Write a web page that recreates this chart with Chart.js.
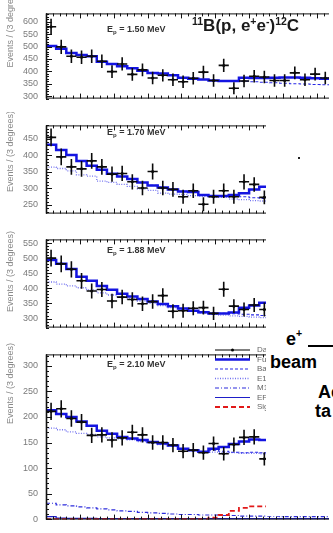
<!DOCTYPE html>
<html>
<head>
<meta charset="utf-8">
<title>11B(p, e+e-)12C</title>
<script src="https://cdn.jsdelivr.net/npm/chart.js@4.4.1/dist/chart.umd.min.js"></script>
<style>
  html, body { margin: 0; padding: 0; background: #fff; }
  body { position: relative; width: 333px; height: 533px; overflow: hidden; font-family: "Liberation Sans", Arial, sans-serif; }
  canvas { position: absolute; left: 0; }
  #cover { position: absolute; left: 266px; top: 113px; width: 67px; height: 403px; background: #fff; }
  .txt { position: absolute; font-weight: bold; color: #000; white-space: nowrap; font-size: 18px; line-height: 18px; }
  .sup { position: relative; font-size: 10.5px; top: -6px; }
</style>
</head>
<body>
<canvas id="c150" width="333" height="112" style="top:0"></canvas>
<canvas id="c170" width="333" height="115" style="top:112px"></canvas>
<canvas id="c188" width="333" height="115" style="top:226px"></canvas>
<canvas id="c210" width="333" height="192" style="top:341px"></canvas>

<div id="cover"></div>
<div style="position:absolute;left:298px;top:157px;width:2px;height:2px;background:#222"></div>
<div class="txt" style="left:192px;top:17px;font-size:17px;line-height:17px;color:#1a1a1a"><span class="sup">11</span>B(p, e<span class="sup">+</span>e<span class="sup">-</span>)<span class="sup">12</span>C</div>
<div class="txt" style="left:286px;top:330px">e<span class="sup" style="top:-8px">+</span></div>
<div style="position:absolute;left:308px;top:345px;width:25px;height:1.5px;background:#000"></div>
<div class="txt" style="left:270px;top:353px">beam</div>
<div class="txt" style="left:318px;top:383px">Ac</div>
<div class="txt" style="left:315px;top:402px">ta</div>

<script>
// bins of 3 degrees, first bin edge at 40 deg
const binStart = 40;
const binWidth = 3;
const xMax = 123.6;

const energies = ['1.50', '1.70', '1.88', '2.10'];
const yTitle = 'Events / (3 degrees)';
const legendLabels = ['Data', 'Full fit', 'Background', 'E1', 'M1', 'EPC', 'Signal'];

// Ep = 1.50 MeV
const data150 = [580, 499, 461, 457, 461, 441, 399, 430, 388, 406, 373, 384, 366, 358, 372, 397, 363, 424, 332, 361, 380, 377, 363, 363, 394, 366, 389, 373];
const err150 = [32, 29, 27, 27, 27, 27, 26, 27, 26, 26, 25, 25, 25, 25, 25, 26, 25, 27, 24, 25, 25, 25, 25, 25, 26, 25, 26, 25];
const fit150 = [502, 491, 474, 466, 461, 439, 430, 421, 413, 402, 393, 391, 384, 374, 370, 367, 363, 361, 361, 374, 373, 373, 374, 375, 375, 374, 372, 370];
const bkg150 = [502, 491, 474, 466, 461, 439, 430, 421, 413, 402, 393, 391, 384, 374, 370, 367, 363, 361, 361, 360, 358, 356, 354, 352, 350, 349, 347, 346];

// Ep = 1.70 MeV
const data170 = [454, 395, 365, 359, 383, 365, 343, 345, 320, 301, 351, 301, 297, 275, 293, 252, 275, 293, 275, 320, 312, 273];
const err170 = [27, 25, 24, 24, 24, 24, 23, 23, 23, 22, 24, 22, 22, 21, 22, 21, 21, 22, 21, 23, 22, 21];
const fit170 = [432, 416, 401, 383, 368, 356, 344, 336, 328, 318, 309, 303, 297, 291, 289, 280, 277, 277, 280, 285, 297, 305];
const bkg170 = [432, 416, 401, 383, 368, 356, 344, 336, 328, 318, 309, 303, 297, 291, 289, 280, 277, 277, 278, 275, 272, 270];
const e1_170 = [364, 360, 353, 341, 337, 322, 318, 312, 306, 299, 294, 286, 283, 282, 278, 276, 274, 273, 268, 266, 263, 262];

// Ep = 1.88 MeV
const data188 = [500, 481, 463, 425, 391, 396, 358, 371, 363, 349, 356, 376, 324, 326, 334, 336, 317, 397, 341, 330, 345, 330];
const err188 = [28, 28, 27, 26, 25, 25, 24, 24, 24, 24, 24, 24, 23, 23, 23, 23, 22, 25, 23, 23, 23, 23];
const fit188 = [494, 481, 464, 438, 425, 408, 395, 382, 373, 365, 356, 348, 341, 333, 326, 321, 317, 317, 320, 336, 343, 352];
const bkg188 = [494, 481, 464, 438, 425, 408, 395, 382, 373, 365, 356, 348, 341, 333, 326, 321, 317, 317, 316, 314, 312, 310];
const e1_188 = [421, 414, 408, 402, 395, 385, 378, 372, 365, 358, 350, 343, 336, 330, 325, 317, 314, 311, 309, 307, 305, 303];

// Ep = 2.10 MeV
const data210 = [211, 216, 197, 190, 164, 165, 155, 159, 170, 165, 150, 150, 145, 133, 135, 130, 148, 128, 146, 160, 161, 118];
const err210 = [17, 17, 16, 16, 15, 15, 15, 15, 15, 15, 14, 14, 14, 14, 14, 14, 14, 13, 14, 15, 15, 13];
const fit210 = [213, 206, 200, 191, 183, 173, 167, 161, 158, 155, 151, 148, 144, 138, 135, 132, 138, 141, 147, 152, 156, 155];
const bkg210 = [213, 206, 200, 191, 183, 173, 167, 161, 158, 155, 151, 148, 144, 138, 135, 132, 135, 133, 131, 130, 131, 130];
const e1_210 = [178, 175, 171, 168, 166, 161, 159, 157, 155, 152, 149, 146, 143, 137, 134, 131, 131, 130, 130, 129, 129, 128];
const m1_210 = [31, 28, 26, 24, 22, 20, 18, 16, 15, 13, 12, 11, 10, 9, 9, 8, 8, 7, 7, 6, 6, 6, 6, 5, 5, 5, 5, 5];
const epc210 = [5, 2, 1.5, 1.5, 1.5, 1, 1, 1, 1, 1, 1, 1, 1, 1, 1, 1, 1, 1, 1, 1, 1, 1, 1, 1, 1, 1, 1, 1];
const sig210 = [0, 0, 0, 0, 0, 0, 0, 0, 0, 0, 0, 0, 0, 0, 0, 0, 3, 8, 16, 22, 25, 25, 19, 16, 15, 14, 13, 12];

const FONT = '"Liberation Sans", Arial, sans-serif';

// histogram outline: one point per left bin edge plus the last right edge
function hist(values) {
    const pts = values.map((v, i) => ({ x: binStart + i * binWidth, y: v }));
    pts.push({ x: binStart + values.length * binWidth, y: values[values.length - 1] });
    return pts;
}

function centres(values) {
    return values.map((v, i) => ({ x: binStart + (i + 0.5) * binWidth, y: v }));
}

const styles = {
    'Full fit': { borderColor: 'rgb(20,20,225)', borderWidth: 2.5 },
    'Background': { borderColor: 'rgb(40,40,230)', borderWidth: 1.1, borderDash: [3, 2] },
    'E1': { borderColor: 'rgb(115,115,240)', borderWidth: 1.3, borderDash: [1, 1.5] },
    'M1': { borderColor: 'rgb(45,45,220)', borderWidth: 1.2, borderDash: [4, 2, 1, 2] },
    'EPC': { borderColor: 'rgb(30,30,200)', borderWidth: 1.2 },
    'Signal': { borderColor: 'rgb(225,25,25)', borderWidth: 1.8, borderDash: [5, 3] }
};

function histSet(label, values) {
    return Object.assign({ label: label, data: hist(values), stepped: true, pointRadius: 0, fill: false }, styles[label]);
}

function dataSet(values, errors) {
    return {
        label: 'Data', data: centres(values), errors: errors, showLine: false,
        pointRadius: 1.5, pointBackgroundColor: '#000', pointBorderWidth: 0,
        borderColor: '#000', borderWidth: 1
    };
}

// error crosses: horizontal bar over the bin, vertical bar +- error
const crosses = {
    id: 'crosses',
    afterDatasetsDraw(chart) {
        const ds = chart.data.datasets[0];
        const { ctx, chartArea: a, scales: { x, y } } = chart;
        ctx.save();
        ctx.beginPath();
        ctx.rect(a.left, a.top, a.right - a.left, a.bottom - a.top);
        ctx.clip();
        ctx.strokeStyle = '#0a0a0a';
        ctx.lineWidth = 1.6;
        ds.data.forEach((p, i) => {
            const e = ds.errors[i];
            const px = x.getPixelForValue(p.x);
            const py = y.getPixelForValue(p.y);
            ctx.beginPath();
            ctx.moveTo(x.getPixelForValue(p.x - binWidth / 2), py);
            ctx.lineTo(x.getPixelForValue(p.x + binWidth / 2), py);
            ctx.moveTo(px, y.getPixelForValue(p.y - e));
            ctx.lineTo(px, y.getPixelForValue(p.y + e));
            ctx.stroke();
        });
        ctx.restore();
    }
};

// frame with inward ticks, ROOT style
const frame = {
    id: 'frame',
    afterDraw(chart) {
        const { ctx, chartArea: a, scales: { x, y } } = chart;
        ctx.save();
        ctx.strokeStyle = '#111';
        ctx.lineWidth = 1;
        ctx.beginPath();
        for (let v = Math.ceil(y.min / 10) * 10; v <= y.max; v += 10) {
            const py = Math.round(y.getPixelForValue(v)) + 0.5;
            const len = v % 50 === 0 ? 6 : 3;
            ctx.moveTo(a.left, py);
            ctx.lineTo(a.left + len, py);
        }
        for (let v = binStart; v <= x.max; v += 2) {
            const px = Math.round(x.getPixelForValue(v)) + 0.5;
            const len = v % 10 === 0 ? 5 : 3;
            ctx.moveTo(px, a.bottom);
            ctx.lineTo(px, a.bottom - len);
            ctx.moveTo(px, a.top);
            ctx.lineTo(px, a.top + len);
        }
        ctx.moveTo(a.left, a.top + 0.5);
        ctx.lineTo(a.right, a.top + 0.5);
        ctx.moveTo(a.left, a.bottom - 0.5);
        ctx.lineTo(a.right, a.bottom - 0.5);
        ctx.stroke();
        ctx.lineWidth = 1.6;
        ctx.beginPath();
        ctx.moveTo(a.left + 0.5, a.top);
        ctx.lineTo(a.left + 0.5, a.bottom);
        ctx.stroke();
        ctx.restore();
    }
};

// y title and the Ep label
const notes = {
    id: 'notes',
    afterDraw(chart, args, o) {
        const ctx = chart.ctx;
        ctx.save();
        ctx.fillStyle = '#8a8a8a';
        ctx.font = '9px ' + FONT;
        ctx.translate(11, o.titleTop);
        ctx.rotate(-Math.PI / 2);
        ctx.textAlign = 'right';
        ctx.textBaseline = 'middle';
        ctx.fillText(yTitle, 0, 0);
        ctx.restore();

        ctx.save();
        ctx.fillStyle = '#333';
        let x = o.lx;
        ctx.font = 'bold 9px ' + FONT;
        ctx.fillText('E', x, o.ly);
        x += ctx.measureText('E').width;
        ctx.font = 'bold 6px ' + FONT;
        ctx.fillText('p', x, o.ly + 2);
        x += ctx.measureText('p').width;
        ctx.font = 'bold 9px ' + FONT;
        ctx.fillText(' = ' + o.label + ' MeV', x, o.ly);
        ctx.restore();
    }
};

// legend with line samples (only in the last panel)
const legendBox = {
    id: 'legendBox',
    afterDraw(chart, args, o) {
        if (!o.show) return;
        const ctx = chart.ctx;
        ctx.save();
        ctx.font = '8px ' + FONT;
        ctx.textBaseline = 'middle';
        legendLabels.forEach((lab, i) => {
            const ds = chart.data.datasets.find(d => d.label === lab);
            const yy = o.top + i * 9.5;
            ctx.strokeStyle = ds.borderColor;
            ctx.lineWidth = ds.borderWidth;
            ctx.setLineDash(ds.borderDash || []);
            ctx.beginPath();
            ctx.moveTo(o.x0, yy);
            ctx.lineTo(o.x1, yy);
            ctx.stroke();
            if (lab === 'Data') {
                ctx.fillStyle = '#000';
                ctx.beginPath();
                ctx.arc((o.x0 + o.x1) / 2, yy, 1.5, 0, Math.PI * 2);
                ctx.fill();
            }
            ctx.fillStyle = '#666';
            ctx.fillText(lab, o.tx, yy);
        });
        ctx.restore();
    }
};

function panel(id, p) {
    return new Chart(document.getElementById(id), {
        type: 'line',
        data: { datasets: p.datasets },
        options: {
            responsive: false,
            animation: false,
            events: [],
            layout: { padding: { top: p.padTop, bottom: p.padBottom, left: 0, right: 0 } },
            plugins: {
                legend: { display: false },
                tooltip: { enabled: false },
                notes: { label: p.label, lx: 107, ly: p.ly, titleTop: p.titleTop },
                legendBox: { show: !!p.legend, top: 9, x0: 215, x1: 250, tx: 257 }
            },
            scales: {
                x: { type: 'linear', min: binStart, max: xMax, display: false },
                y: {
                    type: 'linear', min: p.yMin, max: p.yMax,
                    afterFit: s => { s.width = 46; },
                    grid: { display: false, drawTicks: false },
                    border: { display: false },
                    ticks: {
                        stepSize: 50, includeBounds: false, autoSkip: false,
                        color: '#7a7a7a', padding: 8, font: { size: 9, family: FONT }
                    }
                }
            }
        },
        plugins: [frame, crosses, notes, legendBox]
    });
}

panel('c150', {
    label: energies[0], yMin: 290, yMax: 634, padTop: 9, padBottom: 1, ly: 32, titleTop: -13.5,
    datasets: [dataSet(data150, err150), histSet('Full fit', fit150), histSet('Background', bkg150)]
});

panel('c170', {
    label: energies[1], yMin: 224, yMax: 490, padTop: 1, padBottom: 1, ly: 23, titleTop: -1,
    datasets: [dataSet(data170, err170), histSet('Full fit', fit170), histSet('Background', bkg170), histSet('E1', e1_170)]
});

panel('c188', {
    label: energies[2], yMin: 270, yMax: 562, padTop: 1, padBottom: 1, ly: 26.7, titleTop: 5,
    datasets: [dataSet(data188, err188), histSet('Full fit', fit188), histSet('Background', bkg188), histSet('E1', e1_188)]
});

panel('c210', {
    label: energies[3], yMin: -1, yMax: 322.6, padTop: 1, padBottom: 5, ly: 25.7, titleTop: 2, legend: true,
    datasets: [
        dataSet(data210, err210),
        histSet('Full fit', fit210),
        histSet('Signal', sig210),
        histSet('Background', bkg210),
        histSet('E1', e1_210),
        histSet('M1', m1_210),
        histSet('EPC', epc210)
    ]
});
</script>
</body>
</html>
